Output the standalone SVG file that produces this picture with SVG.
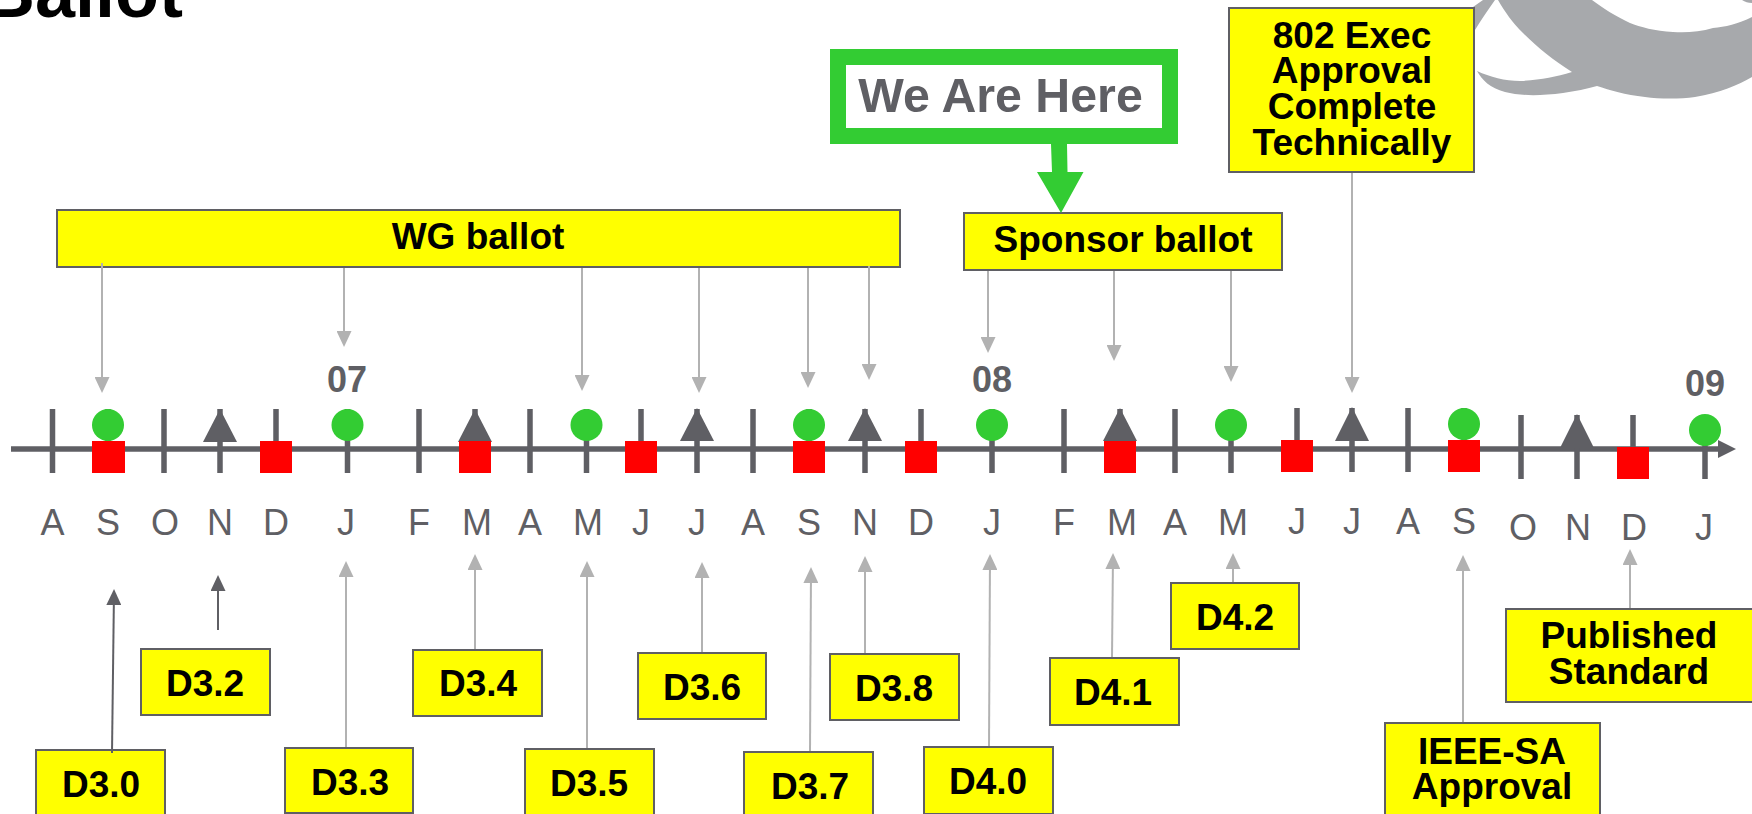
<svg xmlns="http://www.w3.org/2000/svg" width="1752" height="814" viewBox="0 0 1752 814">
<style>
text{font-family:"Liberation Sans",Arial,sans-serif}
.b{font-weight:bold;font-size:37px;fill:#000;text-anchor:middle}
.yr{font-weight:bold;font-size:36px;fill:#5f5f64;text-anchor:middle}
.m{font-size:36px;fill:#5f5f64;text-anchor:middle}
.box{fill:#ff0;stroke:#5f5f64;stroke-width:2}
.tick{stroke:#5f5f64;stroke-width:5.5;fill:none}
.g{stroke:#b2b2b2;stroke-width:2;fill:none;marker-end:url(#ag)}
.d{stroke:#5f5f64;stroke-width:2;fill:none;marker-end:url(#ad)}
.c{fill:#33cc33}.s{fill:#f00}.t{fill:#5f5f64}
.logo{fill:#a7a9ac}
</style>
<defs>
<marker id="ag" markerUnits="userSpaceOnUse" markerWidth="16" markerHeight="15" refX="14" refY="7.5" orient="auto"><path d="M0,0L16,7.5L0,15Z" fill="#b2b2b2"/></marker>
<marker id="ad" markerUnits="userSpaceOnUse" markerWidth="16" markerHeight="15" refX="14" refY="7.5" orient="auto"><path d="M0,0L16,7.5L0,15Z" fill="#5f5f64"/></marker>
</defs>
<rect width="1752" height="814" fill="#fff"/>
<g id="logo">
<path class="logo" d="M1498,0C1505,12 1512,22 1523,33C1537,47 1553,60 1572,72C1555,77 1540,80 1520,81C1505,81 1490,77 1477,71C1482,80 1490,88 1505,92C1520,96 1540,96 1563,93C1575,91 1587,89 1597,86C1610,90 1625,95 1645,97C1660,99 1680,99 1695,97C1720,93 1738,85 1752,77L1752,17C1738,24 1725,27 1713,28C1700,32 1685,33 1673,32C1655,31 1640,27 1630,23C1615,16 1603,8 1592,0Z"/>
<path class="logo" d="M1483,0L1495,0C1488,10 1481,20 1475,30L1473,7Z"/>
<path class="logo" d="M1742,0L1752,0L1752,3C1748,3 1745,2 1742,0Z"/>
</g>
<text id="title" x="183" y="17" font-size="72" font-weight="bold" text-anchor="end" fill="#000">Ballot</text>
<g id="timeline">
<path class="tick" d="M11,449H1720" />
<path d="M1718,440L1736,449L1718,458Z" fill="#5f5f64"/>
<path class="tick" d="M52.5,409V473M108,409V473M164,409V473M220,409V473M276,409V473M347.5,409V473M419,409V473M475,409V473M530,409V473M586.5,409V473M641,409V473M697,409V473M753,409V473M809,409V473M865,409V473M921,409V473M992,409V473M1064,409V473M1120,409V473M1175,409V473M1231,409V473M1297,408V472M1352,408V472M1408,408V472M1464,408V472M1521,415V479M1577,415V479M1633,415V479M1705,415V479"/>
</g>
<g id="triangles">
<path class="t" d="M220,409L237,442H203Z"/><path class="t" d="M475,409L492,442H458Z"/><path class="t" d="M697,408L714,441H680Z"/><path class="t" d="M865,408L882,441H848Z"/><path class="t" d="M1120,408L1137,441H1103Z"/><path class="t" d="M1352,407L1369,441H1335Z"/><path class="t" d="M1577,414L1594,448H1560Z"/>
</g>
<g id="circles">
<circle class="c" cx="108" cy="425" r="16"/><circle class="c" cx="347.5" cy="425" r="16"/><circle class="c" cx="586.5" cy="425" r="16"/><circle class="c" cx="809" cy="425" r="16"/><circle class="c" cx="992" cy="425" r="16"/><circle class="c" cx="1231" cy="425" r="16"/><circle class="c" cx="1464" cy="424" r="16"/><circle class="c" cx="1705" cy="430" r="16"/>
</g>
<g id="squares">
<rect class="s" x="92" y="441" width="33" height="32"/><rect class="s" x="260" y="441" width="32" height="32"/><rect class="s" x="459" y="441" width="32" height="32"/><rect class="s" x="625" y="441" width="32" height="32"/><rect class="s" x="793" y="441" width="32" height="32"/><rect class="s" x="905" y="441" width="32" height="32"/><rect class="s" x="1104" y="441" width="32" height="32"/><rect class="s" x="1281" y="440" width="32" height="32"/><rect class="s" x="1448" y="440" width="32" height="32"/><rect class="s" x="1617" y="447" width="32" height="32"/>
</g>
<g id="years">
<text class="yr" x="347" y="392">07</text><text class="yr" x="992" y="392">08</text><text class="yr" x="1705" y="396">09</text>
</g>
<g id="months">
<text class="m" x="52.5" y="535">A</text><text class="m" x="108" y="535">S</text><text class="m" x="165" y="535">O</text><text class="m" x="220" y="535">N</text><text class="m" x="276" y="535">D</text><text class="m" x="346" y="535">J</text><text class="m" x="419" y="535">F</text><text class="m" x="477" y="535">M</text><text class="m" x="530" y="535">A</text><text class="m" x="588" y="535">M</text><text class="m" x="641" y="535">J</text><text class="m" x="697" y="535">J</text><text class="m" x="753" y="535">A</text><text class="m" x="809" y="535">S</text><text class="m" x="865" y="535">N</text><text class="m" x="921" y="535">D</text><text class="m" x="992" y="535">J</text><text class="m" x="1064" y="535">F</text><text class="m" x="1122" y="535">M</text><text class="m" x="1175" y="535">A</text><text class="m" x="1233" y="535">M</text><text class="m" x="1297" y="534">J</text><text class="m" x="1352" y="534">J</text><text class="m" x="1408" y="534">A</text><text class="m" x="1464" y="534">S</text><text class="m" x="1523" y="540">O</text><text class="m" x="1578" y="540">N</text><text class="m" x="1634" y="540">D</text><text class="m" x="1704" y="540">J</text>
</g>
<g id="here"><rect x="838" y="57" width="332" height="79" fill="#fff" stroke="#33cc33" stroke-width="16"/><text x="1000.5" y="112" font-size="48.3" font-weight="bold" fill="#5f5f64" text-anchor="middle">We Are Here</text></g>
<g id="wg"><rect class="box" x="57" y="210" width="843" height="57"/><text class="b" x="478" y="249">WG ballot</text></g>
<g id="sponsor"><rect class="box" x="964" y="213" width="318" height="57"/><text class="b" x="1123" y="252">Sponsor ballot</text></g>
<g id="exec"><rect class="box" x="1229" y="8" width="245" height="164"/><text class="b" x="1352" y="48">802 Exec</text><text class="b" x="1352" y="83">Approval</text><text class="b" x="1352" y="119">Complete</text><text class="b" x="1352" y="155">Technically</text></g>
<g id="d30"><rect class="box" x="36" y="750" width="129" height="70"/><text class="b" x="101" y="797">D3.0</text></g>
<g id="d32"><rect class="box" x="141" y="649" width="129" height="66"/><text class="b" x="205" y="696">D3.2</text></g>
<g id="d33"><rect class="box" x="285" y="748" width="128" height="65"/><text class="b" x="350" y="795">D3.3</text></g>
<g id="d34"><rect class="box" x="413" y="650" width="129" height="66"/><text class="b" x="478" y="696">D3.4</text></g>
<g id="d35"><rect class="box" x="525" y="749" width="129" height="70"/><text class="b" x="589" y="796">D3.5</text></g>
<g id="d36"><rect class="box" x="638" y="653" width="128" height="66"/><text class="b" x="702" y="700">D3.6</text></g>
<g id="d37"><rect class="box" x="744" y="752" width="129" height="70"/><text class="b" x="810" y="799">D3.7</text></g>
<g id="d38"><rect class="box" x="830" y="654" width="129" height="66"/><text class="b" x="894" y="701">D3.8</text></g>
<g id="d40"><rect class="box" x="924" y="747" width="129" height="67"/><text class="b" x="988" y="794">D4.0</text></g>
<g id="d41"><rect class="box" x="1050" y="658" width="129" height="67"/><text class="b" x="1113" y="705">D4.1</text></g>
<g id="d42"><rect class="box" x="1171" y="583" width="128" height="66"/><text class="b" x="1235" y="630">D4.2</text></g>
<g id="ieee"><rect class="box" x="1385" y="723" width="215" height="98"/><text class="b" x="1492" y="764">IEEE-SA</text><text class="b" x="1492" y="799">Approval</text></g>
<g id="published"><rect class="box" x="1506" y="609" width="250" height="93"/><text class="b" x="1629" y="648">Published</text><text class="b" x="1629" y="684">Standard</text></g>
<g id="connectors">
<path class="g" d="M102,263V391"/><path class="g" d="M344,268V345"/><path class="g" d="M582,268V389"/><path class="g" d="M699,268V391"/><path class="g" d="M808,268V386"/><path class="g" d="M869,266V378"/>
<path class="g" d="M988,271V351"/><path class="g" d="M1114,271V359"/><path class="g" d="M1231,271V380"/><path class="g" d="M1352,173V391"/>
<path class="d" d="M112,753L114,591"/><path class="d" d="M218,630V577"/>
<path class="g" d="M346,747V563"/><path class="g" d="M475,649V556"/><path class="g" d="M587,748V563"/><path class="g" d="M702,652V564"/><path class="g" d="M810,751L811,569"/><path class="g" d="M865,653V558"/><path class="g" d="M989,746L990,556"/><path class="g" d="M1112,657L1113,555"/><path class="g" d="M1233,582V555"/><path class="g" d="M1463,722V557"/><path class="g" d="M1630,608V551"/>
<path id="here-arrow" d="M1051,144H1067L1067.5,172H1083.5L1061,213L1037,172H1052Z" fill="#33cc33"/>
</g>
</svg>
